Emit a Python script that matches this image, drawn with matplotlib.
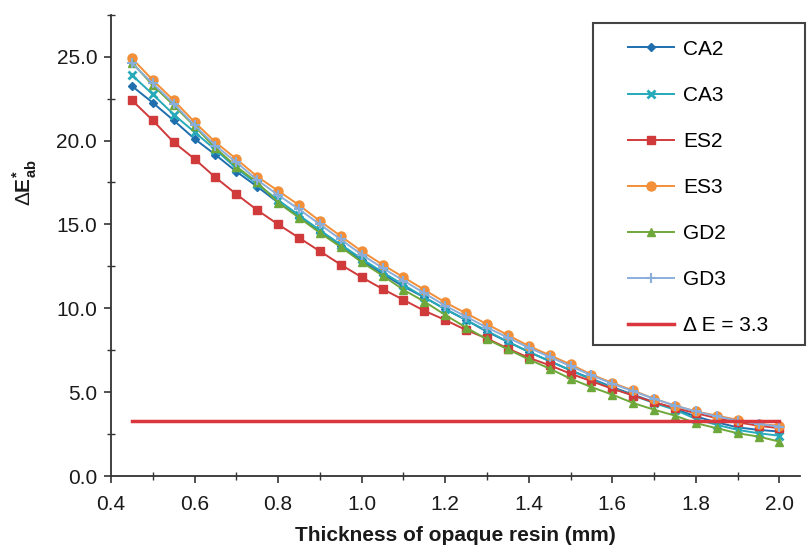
import matplotlib
matplotlib.use('Agg')
import matplotlib.pyplot as plt
import numpy as np
from matplotlib.patches import Rectangle

plt.rcParams['font.family'] = ['Liberation Sans', 'DejaVu Sans']
plt.rcParams['mathtext.fontset'] = 'custom'
plt.rcParams['mathtext.rm'] = 'Liberation Sans'
plt.rcParams['mathtext.bf'] = 'Liberation Sans:bold'

# Thickness of opaque resin (mm)
thickness = [0.45, 0.50, 0.55, 0.60, 0.65, 0.70, 0.75, 0.80, 0.85, 0.90, 0.95, 1.00,
             1.05, 1.10, 1.15, 1.20, 1.25, 1.30, 1.35, 1.40, 1.45, 1.50, 1.55, 1.60,
             1.65, 1.70, 1.75, 1.80, 1.85, 1.90, 1.95, 2.00]

ca2 = [23.25, 22.25, 21.2, 20.1, 19.15, 18.15, 17.25, 16.3, 15.45, 14.55, 13.7, 12.85,
       12.05, 11.3, 10.65, 9.95, 9.3, 8.6, 8.0, 7.4, 6.85, 6.3, 5.8, 5.3,
       4.85, 4.4, 4.0, 3.55, 3.2, 2.9, 2.75, 2.65]
ca3 = [23.9, 22.75, 21.55, 20.5, 19.45, 18.35, 17.4, 16.45, 15.55, 14.65, 13.8, 12.95,
       12.15, 11.4, 10.65, 9.95, 9.3, 8.65, 8.0, 7.4, 6.85, 6.3, 5.75, 5.25,
       4.8, 4.35, 3.95, 3.4, 3.05, 2.75, 2.55, 2.4]
es2 = [22.4, 21.2, 19.9, 18.9, 17.8, 16.8, 15.85, 15.0, 14.2, 13.4, 12.6, 11.85,
       11.15, 10.5, 9.85, 9.3, 8.7, 8.2, 7.6, 7.05, 6.6, 6.1, 5.65, 5.2,
       4.8, 4.4, 4.05, 3.75, 3.45, 3.2, 3.0, 2.85]
es3 = [24.9, 23.6, 22.4, 21.1, 19.9, 18.9, 17.85, 17.0, 16.15, 15.2, 14.3, 13.4,
       12.6, 11.85, 11.1, 10.35, 9.7, 9.05, 8.4, 7.75, 7.2, 6.65, 6.05, 5.55,
       5.1, 4.6, 4.2, 3.85, 3.6, 3.35, 3.1, 3.0]
gd2 = [24.65, 23.3, 22.1, 20.85, 19.55, 18.45, 17.5, 16.3, 15.4, 14.5, 13.65, 12.75,
       11.95, 11.1, 10.4, 9.6, 8.85, 8.15, 7.55, 6.95, 6.4, 5.8, 5.3, 4.85,
       4.35, 3.95, 3.6, 3.15, 2.85, 2.55, 2.35, 2.05]
gd3 = [24.6, 23.4, 22.2, 20.9, 19.7, 18.7, 17.65, 16.75, 15.9, 15.0, 14.1, 13.2,
       12.4, 11.65, 10.9, 10.15, 9.5, 8.85, 8.25, 7.65, 7.1, 6.55, 6.0, 5.5,
       5.05, 4.6, 4.2, 3.85, 3.55, 3.3, 3.1, 2.95]
threshold = 3.3

series = [
    ('CA2', ca2, '#1f6fae', 'D', 4.5, 1.0),
    ('CA3', ca3, '#26a9b8', 'x', 5.5, 2.0),
    ('ES2', es2, '#d03a3a', 's', 6.0, 1.0),
    ('ES3', es3, '#f28f38', 'o', 6.5, 1.0),
    ('GD2', gd2, '#6fa83a', '^', 6.0, 1.0),
    ('GD3', gd3, '#8aaedc', '+', 7.0, 1.5),
]

fig = plt.figure(figsize=(8.11, 5.53), dpi=100)
ax = fig.add_axes([0.1369, 0.1392, 0.850, 0.8342])

handles = []
for name, vals, col, mk, ms, mew in series:
    h, = ax.plot(thickness, vals, color=col, marker=mk, markersize=ms,
                 markeredgewidth=mew, markeredgecolor=col, linewidth=1.4, label=name)
    handles.append(h)

h, = ax.plot([thickness[0], thickness[-1]], [threshold, threshold], color='#d9363e',
             linewidth=2.5, label='\u0394 E = 3.3')
handles.append(h)

ax.set_xlim(0.4, 2.05)
ax.set_ylim(0, 27.5)
ax.set_xticks(np.arange(0.4, 2.01, 0.2))
ax.set_xticks(np.arange(0.5, 2.01, 0.2), minor=True)
ax.set_yticks(np.arange(0, 25.1, 5))
ax.set_yticks(np.arange(2.5, 27.6, 5), minor=True)
ax.set_xticklabels(['%.1f' % v for v in np.arange(0.4, 2.01, 0.2)])
ax.set_yticklabels(['%.1f' % v for v in np.arange(0, 25.1, 5)])

for s in ['top', 'right']:
    ax.spines[s].set_visible(False)
for s in ['left', 'bottom']:
    ax.spines[s].set_color('#333333')
    ax.spines[s].set_linewidth(1.3)
ax.tick_params(which='major', direction='out', length=5, width=1.2, color='#333333',
               labelsize=15, labelcolor='#1a1a1a')
ax.tick_params(axis='y', which='major', pad=5)
ax.tick_params(axis='x', which='major', pad=9)
ax.tick_params(which='minor', direction='inout', length=6, width=1.0, color='#333333')

ax.set_xlabel('Thickness of opaque resin (mm)', fontsize=15, fontweight='bold',
              color='#1a1a1a', labelpad=8)
fig.text(25 / 811, 1 - 183 / 553, r'$\Delta\mathbf{E}^{\mathbf{*}}_{\mathbf{ab}}$',
         rotation=90, fontsize=15, ha='center', va='center', color='#1a1a1a')

# legend box
fig.patches.append(Rectangle((593 / 811, 1 - 345 / 553), 212 / 811, 322 / 553,
                             transform=fig.transFigure, fill=False,
                             edgecolor='#444444', linewidth=1.5))
fig.legend(handles=handles, loc='upper left', bbox_to_anchor=(609 / 811, 1 - 21 / 553),
           frameon=False, fontsize=15, labelspacing=1.3, handlelength=2.2,
           handletextpad=0.45, borderpad=0.4, markerscale=1.0)

fig.savefig('out.png', dpi=100)
